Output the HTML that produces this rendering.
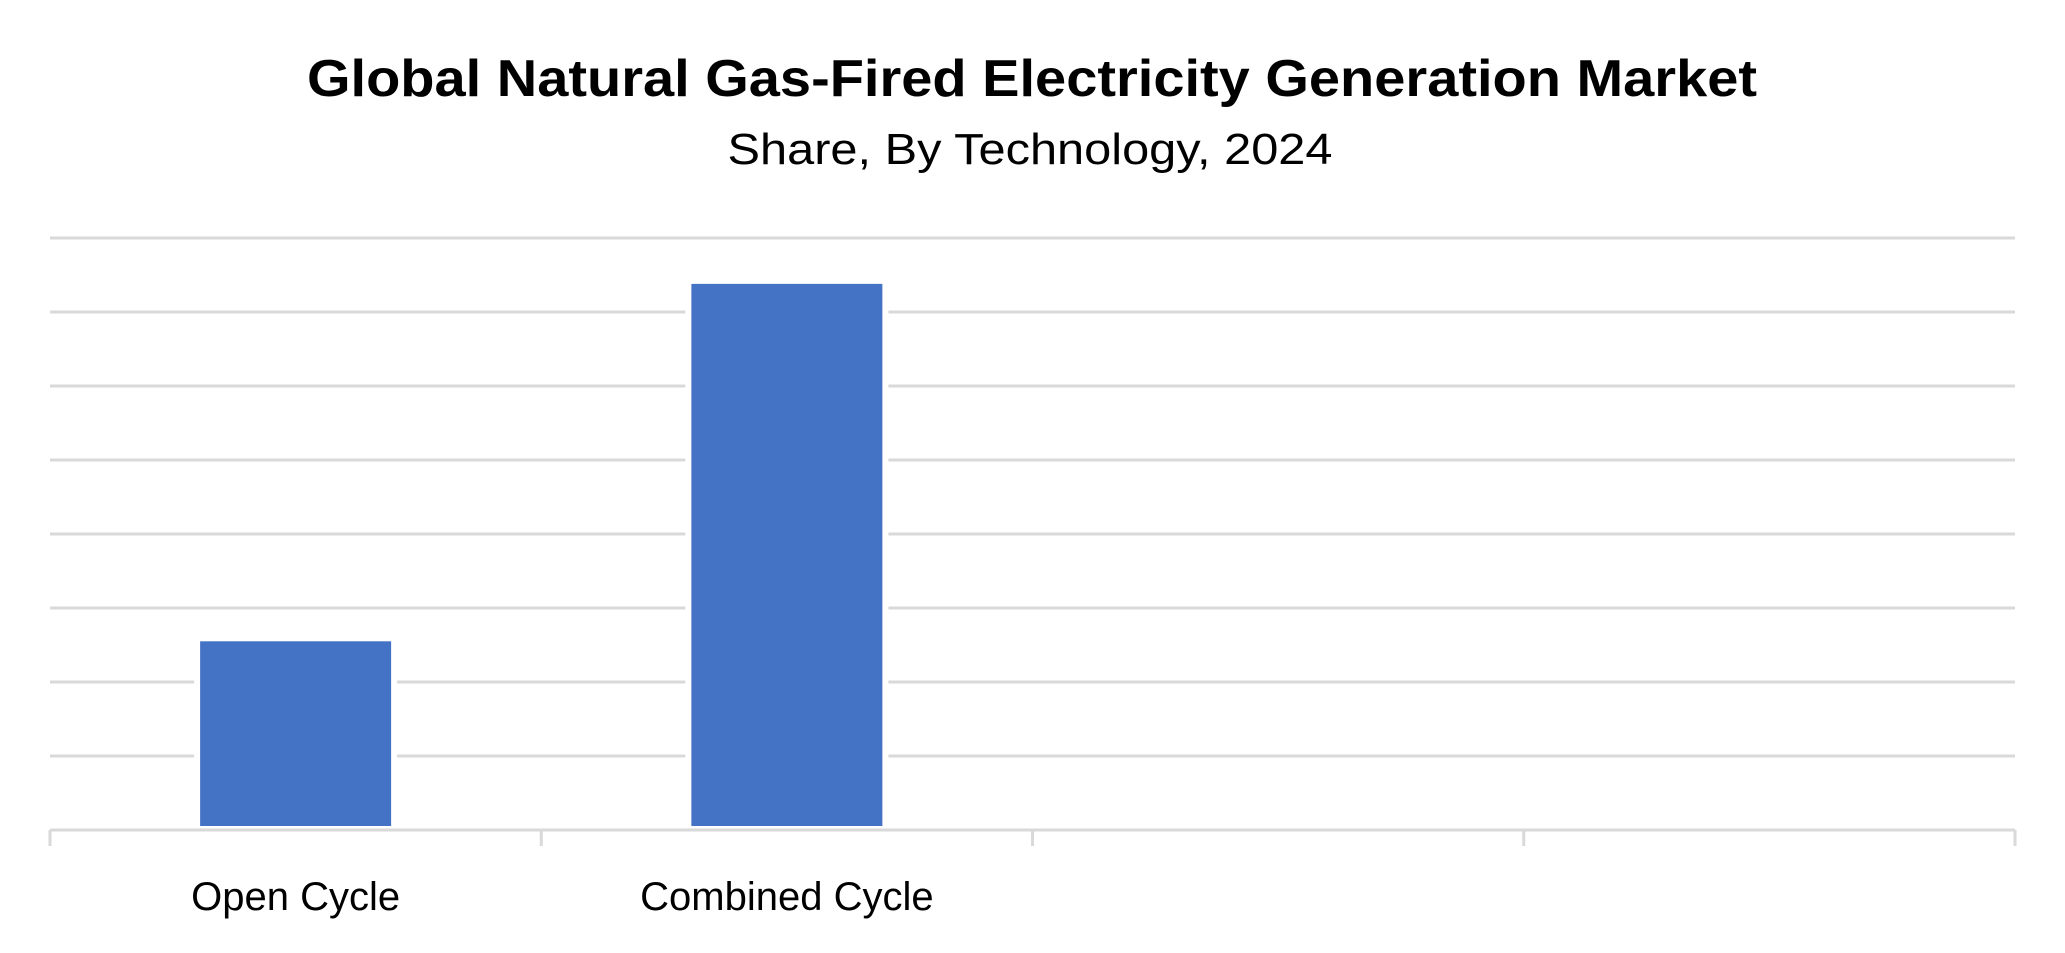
<!DOCTYPE html>
<html><head><meta charset="utf-8"><style>
html,body{margin:0;padding:0;background:#fff;}
svg{display:block;font-family:"Liberation Sans",sans-serif;}
</style></head><body>
<svg id="chart" width="2065" height="953" viewBox="0 0 2065 953">
<text x="1032" y="96" text-anchor="middle" font-size="52" font-weight="bold" textLength="1450" lengthAdjust="spacingAndGlyphs">Global Natural Gas-Fired Electricity Generation Market</text>
<text x="1030" y="164" text-anchor="middle" font-size="44" textLength="605" lengthAdjust="spacingAndGlyphs">Share, By Technology, 2024</text>
<g id="grid"></g><g id="bars"></g><g id="axis"></g>
</svg>
<script>
const categories = ["Open Cycle", "Combined Cycle", "", ""];
const values = [25.5, 73.8];
const yTicks = [0, 10, 20, 30, 40, 50, 60, 70, 80];
const NS = "http://www.w3.org/2000/svg";
const plotLeft = 50, plotRight = 2015, plotBase = 830, plotTop = 238, yMax = 80;
const yScale = v => plotBase - (v / yMax) * (plotBase - plotTop);
const band = (plotRight - plotLeft) / categories.length;
const xScale = i => plotLeft + band * i;
const barW = 191;
function mk(tag, attrs, parent) { const e = document.createElementNS(NS, tag); for (const k in attrs) e.setAttribute(k, attrs[k]); parent.appendChild(e); return e; }
const gridG = document.getElementById("grid"), barsG = document.getElementById("bars"), axisG = document.getElementById("axis");
yTicks.forEach(t => {
  if (t === 0) return;
  const l = mk("line", {x1: plotLeft, x2: plotRight, y1: yScale(t), y2: yScale(t), stroke: "#d9d9d9", "stroke-width": 3}, gridG);
  
  
});
values.forEach((v, i) => {
  const cx = xScale(i) + band / 2;
  const g = mk("rect", {x: cx - barW / 2 - 6, y: yScale(v) - 3, width: barW + 12, height: plotBase - 4 - yScale(v) + 3, fill: "#fff"}, barsG);
  
  
  const r = mk("rect", {x: cx - barW / 2, y: yScale(v), width: barW, height: plotBase - 4 - yScale(v), fill: "#4472c4"}, barsG);
  
  
});
const ax = mk("line", {x1: plotLeft, x2: plotRight, y1: plotBase, y2: plotBase, stroke: "#d9d9d9", "stroke-width": 3}, axisG);


for (let i = 0; i <= categories.length; i++) {
  const t = mk("line", {x1: xScale(i), x2: xScale(i), y1: plotBase, y2: plotBase + 16, stroke: "#d9d9d9", "stroke-width": 3}, axisG);
  
  
}
categories.forEach((c, i) => {
  if (!c) return;
  const t = mk("text", {x: xScale(i) + band / 2, y: 910, "text-anchor": "middle", "font-size": 40}, axisG);
  t.textContent = c;
  
  
});
</script>
</body></html>
